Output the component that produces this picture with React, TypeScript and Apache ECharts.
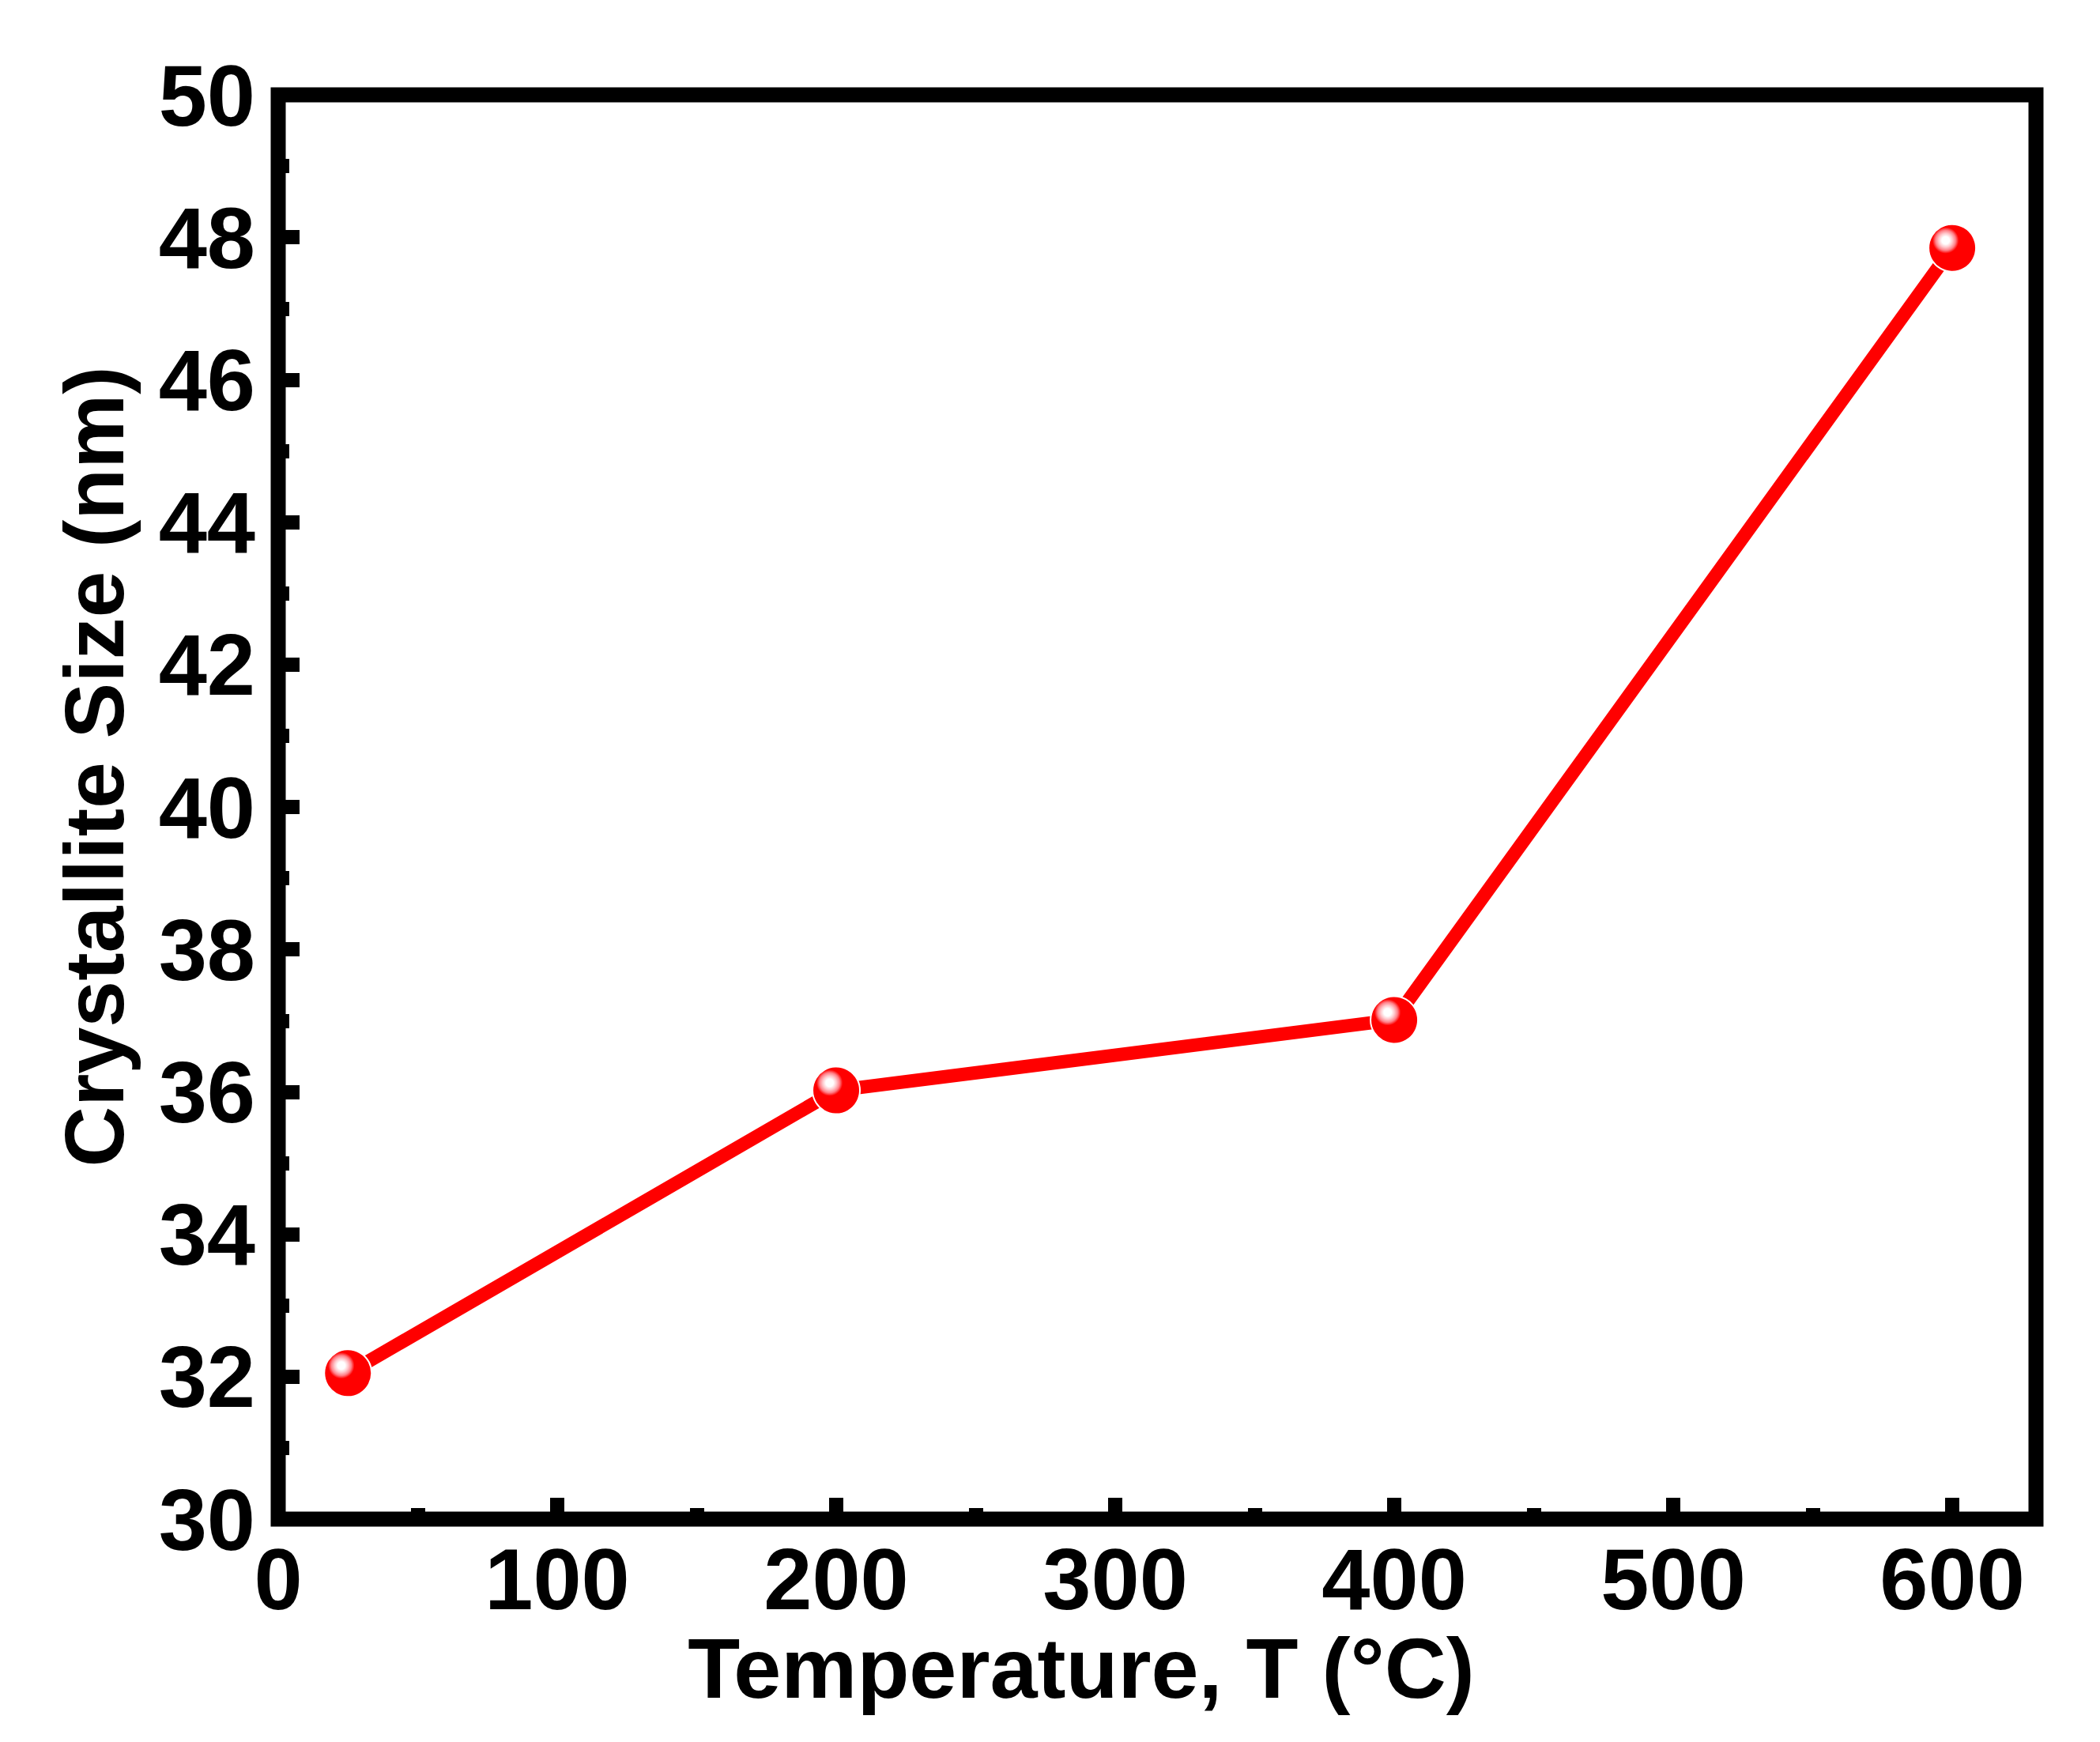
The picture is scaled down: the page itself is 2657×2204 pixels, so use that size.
import React, { useEffect, useRef } from "react";
import * as echarts from "echarts";

const temperatures = [25, 200, 400, 600];
const crystalliteSizes = [32.05, 36.02, 37.01, 47.85];
const xAxisTitle = "Temperature, T (°C)";
const yAxisTitle = "Crystallite Size (nm)";

export default function App() {
  const ref = useRef<HTMLDivElement>(null);
  useEffect(() => {
    document.body.style.margin = "0";
    const chart = echarts.init(ref.current!, null, { renderer: "svg" });
    const font = "'Liberation Sans', Arial, sans-serif";
    const markerColor = new echarts.graphic.RadialGradient(0.36, 0.34, 0.66, [
      { offset: 0, color: "#ffffff" },
      { offset: 0.12, color: "#ffffff" },
      { offset: 0.22, color: "#ffc8cc" },
      { offset: 0.32, color: "#ff8088" },
      { offset: 0.42, color: "#ff0000" },
      { offset: 1, color: "#ff0000" },
    ]);
    chart.setOption({
      animation: false,
      backgroundColor: "#ffffff",
      grid: {
        left: 352,
        right: 81,
        top: 120,
        bottom: 282,
        show: true,
        borderColor: "#000",
        borderWidth: 19,
        backgroundColor: "transparent",
      },
      xAxis: {
        type: "value",
        min: 0,
        max: 630,
        interval: 100,
        name: xAxisTitle,
        nameLocation: "middle",
        nameGap: 96,
        nameTextStyle: {
          fontFamily: font,
          fontWeight: "bold",
          fontSize: 108,
          color: "#000",
          padding: [0, 192, 0, 0],
        },
        axisLine: { show: false },
        axisTick: { show: true, inside: true, length: 27, lineStyle: { color: "#000", width: 18 } },
        minorTick: { show: true, splitNumber: 2, length: 14, lineStyle: { color: "#000", width: 18 } },
        splitLine: { show: false },
        minorSplitLine: { show: false },
        axisLabel: {
          fontFamily: font,
          fontWeight: "bold",
          fontSize: 110,
          color: "#000",
          margin: 20,
          showMaxLabel: false,
        },
      },
      yAxis: {
        type: "value",
        min: 30,
        max: 50,
        interval: 2,
        name: yAxisTitle,
        nameLocation: "middle",
        nameGap: 180,
        nameTextStyle: {
          fontFamily: font,
          fontWeight: "bold",
          fontSize: 106,
          color: "#000",
          padding: [0, 0, 0, 102],
        },
        axisLine: { show: false },
        axisTick: { show: true, inside: true, length: 27, lineStyle: { color: "#000", width: 18 } },
        minorTick: { show: true, splitNumber: 2, length: 14, lineStyle: { color: "#000", width: 18 } },
        splitLine: { show: false },
        minorSplitLine: { show: false },
        axisLabel: {
          fontFamily: font,
          fontWeight: "bold",
          fontSize: 110,
          color: "#000",
          margin: 29,
        },
      },
      series: [
        {
          type: "line",
          data: temperatures.map((t, i) => [t, crystalliteSizes[i]]),
          lineStyle: { color: "#ff0000", width: 17 },
          symbol: "circle",
          symbolSize: 60,
          showSymbol: true,
          itemStyle: { color: markerColor, borderColor: "#ffffff", borderWidth: 2 },
          z: 5,
        },
      ],
    });
    return () => chart.dispose();
  }, []);
  return <div ref={ref} style={{ width: 2657, height: 2204 }} />;
}
